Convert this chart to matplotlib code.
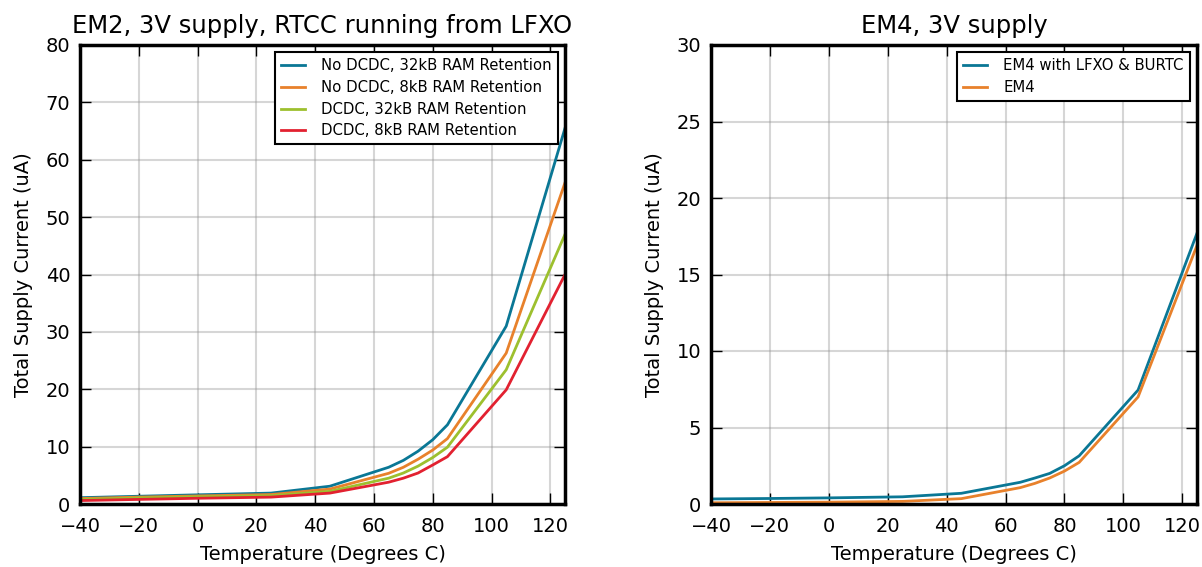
import matplotlib
matplotlib.use('Agg')
import matplotlib.pyplot as plt

# EM2 data (uA), temperatures in degrees C
temp = [-40, -20, 0, 25, 45, 65, 70, 75, 80, 85, 105, 125]
nodcdc_32k = [1.1, 1.35, 1.6, 1.9, 3.1, 6.4, 7.6, 9.2, 11.2, 13.8, 31.0, 65.5]
nodcdc_8k = [0.95, 1.2, 1.4, 1.65, 2.6, 5.35, 6.4, 7.8, 9.4, 11.4, 26.3, 56.0]
dcdc_32k = [0.8, 1.05, 1.25, 1.45, 2.2, 4.5, 5.4, 6.6, 8.1, 9.9, 23.4, 47.0]
dcdc_8k = [0.6, 0.8, 1.0, 1.2, 1.9, 3.8, 4.5, 5.4, 6.8, 8.25, 19.9, 40.0]

# EM4 data (uA)
em4_burtc = [0.33, 0.36, 0.4, 0.47, 0.7, 1.42, 1.7, 2.0, 2.5, 3.15, 7.45, 17.7]
em4 = [0.08, 0.1, 0.12, 0.17, 0.35, 1.07, 1.35, 1.7, 2.15, 2.72, 7.0, 16.9]

blue = '#0a7795'
orange = '#e8812b'
green = '#9dc02e'
red = '#e22130'

plt.rcParams['font.family'] = 'DejaVu Sans'
fig = plt.figure(figsize=(12.02, 5.67), dpi=100)
ax1 = fig.add_axes([80 / 1202, 63 / 567, 485 / 1202, 459 / 567])
ax2 = fig.add_axes([711 / 1202, 63 / 567, 486 / 1202, 459 / 567])


def style(ax):
    ax.set_xlim(-40, 125)
    ax.set_xticks([-40, -20, 0, 20, 40, 60, 80, 100, 120])
    ax.grid(True, color='0.55', alpha=0.35, linewidth=1.5, linestyle='-')
    ax.tick_params(direction='in', length=8, width=1, top=True, right=True,
                   labelsize=14)
    ax.tick_params(axis='x', pad=9)
    ax.tick_params(axis='y', pad=7)
    for s in ax.spines.values():
        s.set_linewidth(2.5)
    ax.set_xlabel('Temperature (Degrees C)', fontsize=14, labelpad=7)
    ax.set_ylabel('Total Supply Current (uA)', fontsize=14, labelpad=9)


def legend(ax):
    leg = ax.legend(loc='upper right', fontsize=10.7, fancybox=False,
                    framealpha=1, borderaxespad=0.5, handlelength=1.6,
                    handletextpad=1.1, labelspacing=0.45)
    leg.get_frame().set_edgecolor('black')
    leg.get_frame().set_linewidth(1.5)


ax1.plot(temp, nodcdc_32k, color=blue, lw=2, label='No DCDC, 32kB RAM Retention')
ax1.plot(temp, nodcdc_8k, color=orange, lw=2, label='No DCDC, 8kB RAM Retention')
ax1.plot(temp, dcdc_32k, color=green, lw=2, label='DCDC, 32kB RAM Retention')
ax1.plot(temp, dcdc_8k, color=red, lw=2, label='DCDC, 8kB RAM Retention')
style(ax1)
ax1.set_ylim(0, 80)
ax1.set_title('EM2, 3V supply, RTCC running from LFXO', fontsize=17.5, pad=9)
legend(ax1)

ax2.plot(temp, em4_burtc, color=blue, lw=2, label='EM4 with LFXO & BURTC')
ax2.plot(temp, em4, color=orange, lw=2, label='EM4')
style(ax2)
ax2.set_ylim(0, 30)
ax2.set_title('EM4, 3V supply', fontsize=17.5, pad=9)
legend(ax2)

fig.savefig('out.png', dpi=100)
